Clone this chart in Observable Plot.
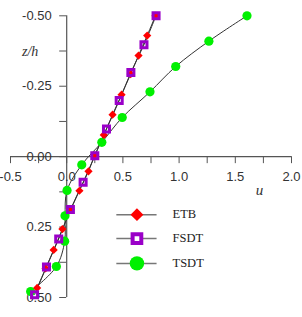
<!DOCTYPE html>
<html>
<head>
<meta charset="utf-8">
<script src="https://cdn.jsdelivr.net/npm/d3@7"></script>
<script src="https://cdn.jsdelivr.net/npm/@observablehq/plot@0.6"></script>
<style>
  html, body { margin: 0; padding: 0; background: #fff; }
  #chart { position: relative; width: 302px; height: 317px; }
</style>
</head>
<body>
<div id="chart"></div>
<script>
// Displacement u through the thickness z/h for three beam theories
const etbU = [0.79, 0.716, 0.639, 0.569, 0.488, 0.408, 0.330, 0.25, 0.194, 0.113, 0.036, -0.038, -0.116, -0.188, -0.263];
const etbZ = [-0.5, -0.430, -0.359, -0.293, -0.220, -0.149, -0.077, -0.005, 0.052, 0.121, 0.188, 0.257, 0.331, 0.397, 0.466];

const fsdtU = [0.795, 0.6875, 0.571, 0.467, 0.354, 0.25, 0.146, 0.033, -0.071, -0.18, -0.286];
const fsdtZ = [-0.5, -0.397, -0.299, -0.199, -0.098, -0.003, 0.091, 0.188, 0.292, 0.392, 0.49];

const tsdtU = [1.604, 1.265, 0.970, 0.741, 0.494, 0.3125, 0.134, 0.003, -0.015, -0.018, -0.092, -0.321];
const tsdtZ = [-0.5, -0.410, -0.320, -0.230, -0.139, -0.051, 0.029, 0.120, 0.210, 0.300, 0.390, 0.479];

const seriesNames = ["ETB", "FSDT", "TSDT"];
const xTitle = "u", yTitle = "z/h";

const xTicks = d3.range(-0.5, 2.0001, 0.25);
const yTicks = d3.range(-0.5, 0.5001, 0.125);

const toRows = (us, zs) => us.map((u, i) => ({u, z: zs[i]}));
const etb = toRows(etbU, etbZ);
const fsdt = toRows(fsdtU, fsdtZ);
const tsdt = toRows(tsdtU, tsdtZ);

const RED = "#ff0000", PURPLE = "#9a00c8", GREEN = "#00f000";
const AXIS = "#555", LABEL = "#333";

// legend layout (in plot units)
const legendRowsZ = [0.206, 0.291, 0.379];
const legend = seriesNames.map((name, i) => ({name, z: legendRowsZ[i]}));
const legX1 = 0.446, legX2 = 0.804, legMark = 0.625, legText = 0.946;

const W = 302, H = 317;
const xRange = [10, 291];
const yRange = [15.3, 297];
const xDomain = [-0.5, 2.0];
const yDomain = [-0.5, 0.5];
// place the y axis at u = 0 and the x axis at z = 0
const xAt0 = xRange[0] + (0 - xDomain[0]) / (xDomain[1] - xDomain[0]) * (xRange[1] - xRange[0]);
const yAt0 = yRange[0] + (0 - yDomain[0]) / (yDomain[1] - yDomain[0]) * (yRange[1] - yRange[0]);

const chart = Plot.plot({
  width: W,
  height: H,
  marginLeft: xAt0,
  marginRight: W - xRange[1],
  marginTop: yRange[0],
  marginBottom: H - yAt0,
  style: {background: "#fff", overflow: "visible", fontFamily: "'Liberation Sans', Arial, sans-serif"},
  x: {domain: xDomain, range: xRange},
  y: {domain: yDomain, range: yRange},
  marks: [
    // axis lines
    Plot.ruleY([0], {x1: xDomain[0], x2: xDomain[1], stroke: AXIS, strokeWidth: 1.2}),
    Plot.ruleX([0], {y1: yDomain[0], y2: yDomain[1], stroke: AXIS, strokeWidth: 1.2}),
    Plot.axisX({
      anchor: "bottom", ticks: xTicks, tickSize: 7, tickPadding: 8,
      stroke: AXIS, color: LABEL, label: null,
      tickFormat: d => (Math.abs(d * 2 - Math.round(d * 2)) < 1e-9 ? d.toFixed(1) : ""),
      fontSize: 13
    }),
    Plot.axisY({
      anchor: "left", ticks: yTicks, tickSize: 7, tickPadding: 8,
      stroke: AXIS, color: LABEL, label: null,
      tickFormat: d => (Math.abs(d * 4 - Math.round(d * 4)) < 1e-9 ? d.toFixed(2) : ""),
      fontSize: 13
    }),
    // curves
    Plot.line(tsdt, {x: "u", y: "z", stroke: "#333", strokeWidth: 1, curve: "catmull-rom"}),
    Plot.line(etb, {x: "u", y: "z", stroke: "#333", strokeWidth: 1, curve: "catmull-rom"}),
    Plot.line(fsdt, {x: "u", y: "z", stroke: "#333", strokeWidth: 1, curve: "catmull-rom"}),
    // markers
    Plot.dot(tsdt, {x: "u", y: "z", r: 4.6, fill: GREEN, stroke: "none"}),
    Plot.dot(etb, {x: "u", y: "z", r: 3.7, symbol: "diamond2", fill: RED, stroke: "none"}),
    Plot.dot(fsdt, {x: "u", y: "z", r: 3.4, symbol: "square", fill: "none", stroke: PURPLE, strokeWidth: 3}),
    // legend keys
    Plot.ruleY(legend, {y: "z", x1: legX1, x2: legX2, stroke: "#777", strokeWidth: 1.5}),
    Plot.dot(legend.filter(d => d.name === "ETB"), {x: legMark, y: "z", r: 5.8, symbol: "diamond2", fill: RED, stroke: "none"}),
    Plot.dot(legend.filter(d => d.name === "FSDT"), {x: legMark, y: "z", r: 4.9, symbol: "square", fill: "#fff", stroke: PURPLE, strokeWidth: 4}),
    Plot.dot(legend.filter(d => d.name === "TSDT"), {x: legMark, y: "z", r: 7.2, fill: GREEN, stroke: "none"})
  ]
});

const wrap = document.getElementById("chart");
wrap.appendChild(chart);

// serif titles and legend names, placed with the same scales as the plot
const sx = d3.scaleLinear(xDomain, xRange);
const sy = d3.scaleLinear(yDomain, yRange);
function serifLabel(text, u, z, {center = false, size = 13, italic = false, color = LABEL} = {}) {
  const el = document.createElement("div");
  el.textContent = text;
  el.setAttribute("style",
    `position:absolute;white-space:nowrap;line-height:1;` +
    `font-family:'Liberation Serif';font-size:${size}px;` +
    `font-style:${italic ? "italic" : "normal"};color:${color};` +
    `left:${sx(u)}px;top:${sy(z)}px;` +
    `transform:translate(${center ? "-50%" : "0"},-50%);`);
  wrap.appendChild(el);
}
serifLabel(yTitle, -0.393, -0.37, {size: 14, italic: true});
serifLabel(xTitle, 1.72, 0.12, {size: 15, italic: true, center: true});
legend.forEach(d => serifLabel(d.name, legText, d.z, {size: 12.5, color: "#222"}));
</script>
</body>
</html>
